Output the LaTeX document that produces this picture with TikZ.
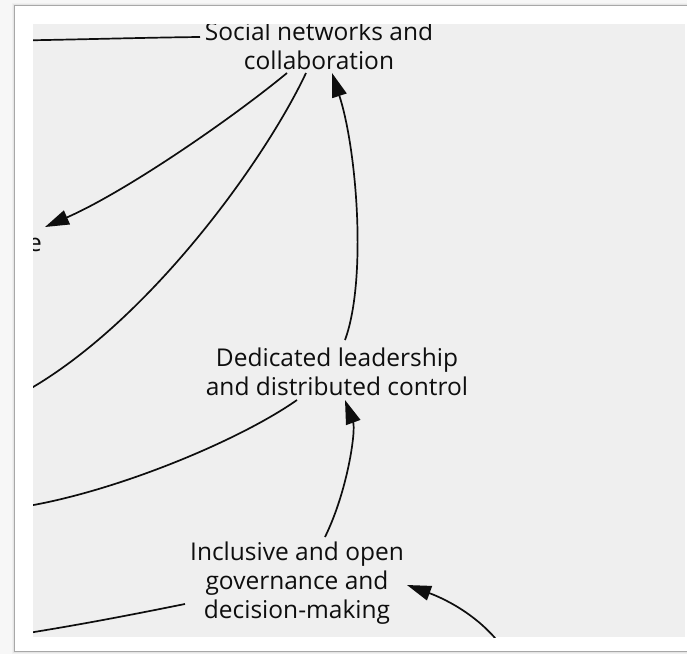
\documentclass[tikz,border=0pt]{standalone}
\usepackage{fontspec}
\setmainfont{Open Sans}
\usetikzlibrary{arrows.meta,calc}
\definecolor{outerbg}{HTML}{F7F7F7}
\definecolor{panelbg}{HTML}{EFEFEF}
\definecolor{framecol}{HTML}{A8A8A8}
\definecolor{inkcol}{HTML}{0E0E0E}
\tikzset{
  lbl/.style={align=center, inner sep=0pt, text=inkcol, font=\fontsize{24.5}{29}\selectfont},
  conn/.style={draw=inkcol, line width=1.7pt},
  arr/.style={conn, -{Triangle[length=24pt,width=15pt]}},
}
\begin{document}
\begin{tikzpicture}[x=1pt,y=-1pt]
\useasboundingbox (0,0) rectangle (687,654);
\fill[outerbg] (0,0) rectangle (687,654);
% frame with soft shadow
\fill[black!6] (12,3) rectangle (700,654);
\fill[black!10] (13,4) rectangle (700,653);
\fill[white] (14,5) rectangle (700,651);
\draw[framecol, line width=0.8pt] (14,651) -- (14,5) -- (700,5);
\draw[framecol, line width=0.8pt] (14,651) -- (700,651);
\fill[panelbg] (33,24) rectangle (685,637);
\begin{scope}
\clip (33,24) rectangle (685,637);
\node[lbl] (social) at (319,45.5) {Social networks and\\collaboration};
\node[lbl] (dedicated) at (337,372) {Dedicated leadership\\and distributed control};
\node[lbl] (inclusive) at (297,583.5) {Inclusive and open\\governance and\\decision-making};
\node[lbl] (enode) at (35,245) {e};
\coordinate (c1) at (18,40.5);
\coordinate (c3) at (28,390);
\coordinate (c5) at (28,506);
\coordinate (c7) at (28,633);
\coordinate (c8) at (500,644);
% edges
\draw[conn] (c1) .. controls (80,39.5) and (150,37.5) .. ($(social.center)+(-119,-8.5)$);
\draw[arr] ($(social.center)+(-32,27.5)$) .. controls (230,120) and (125,192) .. ($(enode.center)+(10,-18)$);
\draw[conn] ($(social.center)+(-13,27.5)$) .. controls (265,160) and (150,320) .. (c3);
\draw[arr] ($(dedicated.center)+(8,-32)$) .. controls (367,280) and (357,150) .. ($(social.center)+(13,27.5)$);
\draw[conn] ($(dedicated.center)+(-40,28)$) .. controls (240,440) and (120,490) .. (c5);
\draw[arr] ($(inclusive.center)+(28,-46.5)$) .. controls (348,490) and (356,430) .. ($(dedicated.center)+(8,28)$);
\draw[conn] (c7) .. controls (90,623) and (140,613) .. ($(inclusive.center)+(-112,20.5)$);
\draw[arr] (c8) .. controls (475,612) and (440,597) .. ($(inclusive.center)+(110,1.5)$);
\end{scope}
\end{tikzpicture}
\end{document}
